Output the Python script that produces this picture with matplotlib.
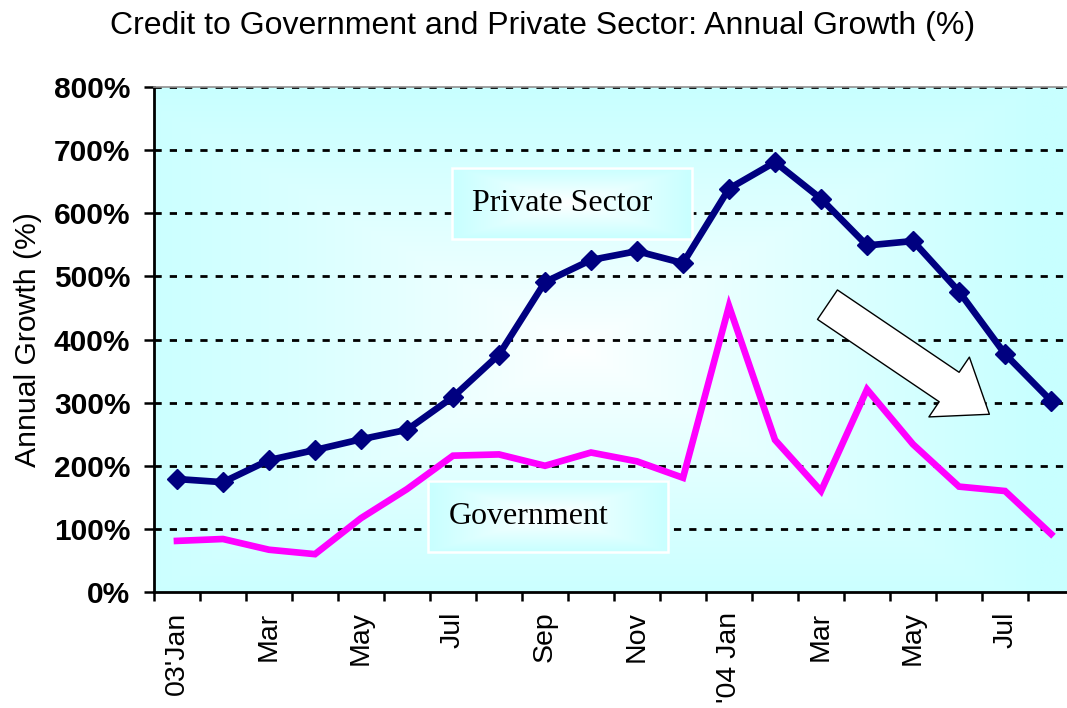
import numpy as np
import matplotlib
matplotlib.use("Agg")
import matplotlib.pyplot as plt
from matplotlib.colors import LinearSegmentedColormap
from matplotlib.patches import Rectangle

# Monthly observations, Jan 2003 - Aug 2004
months = ["Jan 03", "Feb 03", "Mar 03", "Apr 03", "May 03", "Jun 03", "Jul 03",
          "Aug 03", "Sep 03", "Oct 03", "Nov 03", "Dec 03", "Jan 04", "Feb 04",
          "Mar 04", "Apr 04", "May 04", "Jun 04", "Jul 04", "Aug 04"]
tick_labels = ["03'Jan", "", "Mar", "", "May", "", "Jul", "", "Sep", "", "Nov", "",
               "'04 Jan", "", "Mar", "", "May", "", "Jul", ""]
private_sector = [179, 174, 209, 225, 242, 257, 309, 376, 491, 526, 540, 521,
                  639, 681, 623, 549, 556, 476, 377, 303]
government = [81, 84, 67, 60, 117, 163, 216, 218, 200, 221, 207, 181,
              453, 241, 160, 321, 234, 167, 160, 92]
y_ticks = [0, 100, 200, 300, 400, 500, 600, 700, 800]

CYAN = "#c8ffff"
NAVY = "#000080"
MAGENTA = "#ff00ff"

fig = plt.figure(figsize=(10.67, 7.08), dpi=100)
ax = fig.add_axes([0.1443, 0.1638, 0.8623, 0.7133])

grad_cmap = LinearSegmentedColormap.from_list("fill", ["#ffffff", CYAN])


def rect_gradient(nx, ny, cx, cy, rx, ry, power=1.0):
    xs = np.linspace(0, 1, nx)
    ys = np.linspace(0, 1, ny)
    X, Y = np.meshgrid(xs, ys)
    t = np.maximum(np.abs(X - cx) / rx, np.abs(Y - cy) / ry)
    return np.clip(t, 0, 1) ** power


# plot-area background shading
bg = rect_gradient(400, 300, 0.46, 0.48, 0.5, 0.52, power=0.8)
ax.imshow(bg, cmap=grad_cmap, vmin=0, vmax=1, extent=(0, 1, 0, 1),
          transform=ax.transAxes, aspect="auto", origin="lower", zorder=0,
          interpolation="bilinear")

x = np.arange(len(months))

# horizontal dashed grid
for yv in y_ticks[1:]:
    ax.axhline(yv, color="black", lw=2.0, ls=(0, (2.6, 2.9)), zorder=1)

ax.plot(x, government, color=MAGENTA, lw=4.8, solid_joinstyle="miter",
        zorder=3)
ax.plot(x, private_sector, color=NAVY, lw=4.8, marker="D", ms=10.5,
        mec=NAVY, mfc=NAVY, zorder=4)


def label_box(x0, y0, w, h, text):
    img = rect_gradient(120, 60, 0.5, 0.5, 0.5, 0.5, power=1.0)
    ax.imshow(img, cmap=grad_cmap, vmin=0, vmax=1,
              extent=(x0, x0 + w, y0, y0 + h), transform=ax.transAxes,
              aspect="auto", origin="lower", zorder=2,
              interpolation="bilinear")
    ax.add_patch(Rectangle((x0, y0), w, h, transform=ax.transAxes,
                           fill=False, ec="white", lw=1.8, zorder=2.5))
    ax.text(x0 + 0.022, y0 + h / 2, text, transform=ax.transAxes,
            ha="left", va="center", fontsize=23, family="Liberation Serif",
            color="black", zorder=2.6)


label_box(0.324, 0.699, 0.261, 0.141, "Private Sector")
label_box(0.298, 0.079, 0.261, 0.141, "Government")

# downward trend arrow
ax.annotate("", xy=(0.908, 0.352), xytext=(0.732, 0.569),
            xycoords="axes fraction", textcoords="axes fraction",
            arrowprops=dict(arrowstyle="simple,head_length=3.5,"
                                       "head_width=5.2,tail_width=2.56",
                            mutation_scale=10, fc="white", ec="black",
                            lw=1.0, shrinkA=0, shrinkB=0),
            zorder=5)

ax.set_xlim(-0.5, len(months) - 0.5)
ax.set_ylim(0, 800)

# category boundaries carry the tick marks, labels sit at the centres
ax.set_xticks(np.arange(-0.5, len(months), 1.0))
ax.set_xticklabels([])
ax.set_xticks(x, minor=True)
ax.set_xticklabels(tick_labels, minor=True, rotation=90, fontsize=20.5,
                   family="Liberation Sans", va="top")
ax.tick_params(axis="x", which="major", direction="out", length=6.5,
               width=1.8, color="black")
ax.tick_params(axis="x", which="minor", length=0, pad=14)

ax.set_yticks(y_ticks)
ax.set_yticklabels([f"{v}%" for v in y_ticks], fontsize=21.5,
                   family="Liberation Sans", fontweight="bold")
ax.tick_params(axis="y", direction="out", length=7, width=1.8, pad=10)

ax.spines["right"].set_visible(False)
ax.spines["top"].set_color("#909090")
ax.spines["top"].set_linewidth(1.2)
ax.spines["left"].set_linewidth(2.0)
ax.spines["bottom"].set_linewidth(2.0)

fig.text(28 / 1067, 1 - 340 / 708, "Annual Growth (%)", rotation=90,
         ha="center", va="center", fontsize=21.7, family="Liberation Sans")
fig.text(543 / 1067, 1 - 26 / 708,
         "Credit to Government and Private Sector: Annual Growth (%)",
         ha="center", va="center", fontsize=23, family="Liberation Sans")

fig.savefig("out.png", dpi=100)
